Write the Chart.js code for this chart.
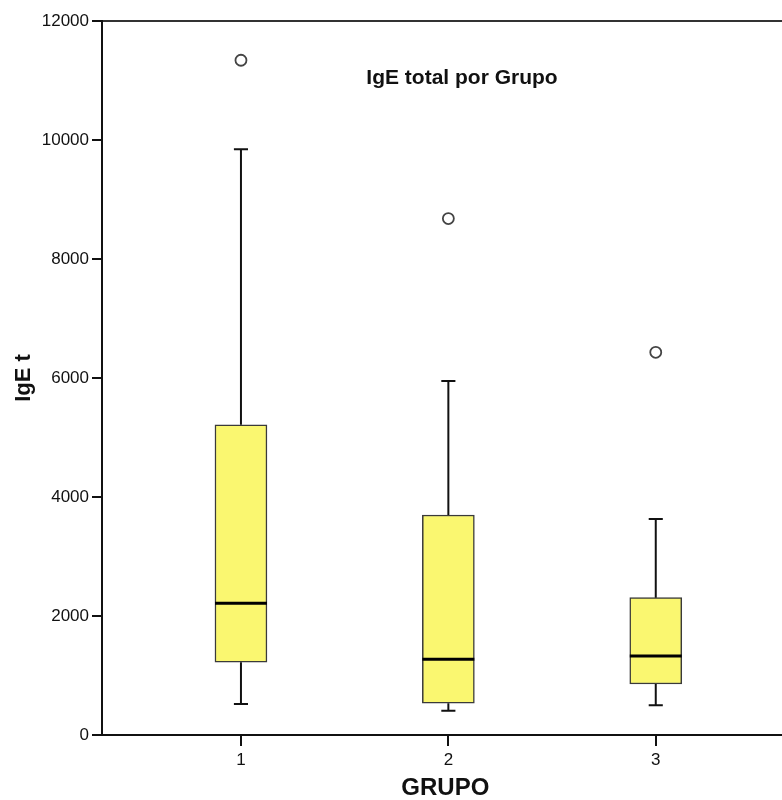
<!DOCTYPE html>
<html>
<head>
<meta charset="utf-8">
<script src="https://cdn.jsdelivr.net/npm/chart.js@4"></script>
<style>
  html, body { margin: 0; padding: 0; background: #ffffff; overflow: hidden; width: 782px; height: 800px; }
  #wrap { width: 796px; height: 800px; }
</style>
</head>
<body>
<div id="wrap"><canvas id="c" width="796" height="800"></canvas></div>
<script>
// ---- data ----
const groups       = [1, 2, 3];
const groupLabels  = ['1', '2', '3'];
const whiskerLow   = [521, 409, 499];
const q1Values     = [1222, 533, 857];
const medianValues = [2213, 1272, 1328];
const q3Values     = [5215, 3697, 2308];
const whiskerHigh  = [9843, 5950, 3630];
const outlierGroup = [1, 2, 3];
const outlierValue = [11340, 8680, 6432];
const yTicks       = [0, 2000, 4000, 6000, 8000, 10000, 12000];

const chartTitle = 'IgE total por Grupo';
const xTitle = 'GRUPO';
const yTitle = 'IgE t';

// ---- styling ----
const FONT = "'Liberation Sans', Arial, sans-serif";
const INK = '#111111';
const BOX_HALF = 0.1253;   // half box width in x units
const CAP_HALF = 0.034;    // half whisker cap width in x units
const X_MIN = 0.33, X_MAX = 3.641;

const boxData = groups.map((g, i) => ({ x: g, y: [q1Values[i], q3Values[i]] }));

const whiskerData = [];
groups.forEach((g, i) => {
  whiskerData.push({ x: g, y: q3Values[i] }, { x: g, y: whiskerHigh[i] }, { x: g, y: null });
  whiskerData.push({ x: g - CAP_HALF, y: whiskerHigh[i] }, { x: g + CAP_HALF, y: whiskerHigh[i] }, { x: g, y: null });
  whiskerData.push({ x: g, y: q1Values[i] }, { x: g, y: whiskerLow[i] }, { x: g, y: null });
  whiskerData.push({ x: g - CAP_HALF, y: whiskerLow[i] }, { x: g + CAP_HALF, y: whiskerLow[i] }, { x: g, y: null });
});

const medianData = [];
groups.forEach((g, i) => {
  medianData.push({ x: g - BOX_HALF, y: medianValues[i] }, { x: g + BOX_HALF, y: medianValues[i] }, { x: g, y: null });
});

const outlierData = outlierGroup.map((g, i) => ({ x: g, y: outlierValue[i] }));

const titlePlugin = {
  id: 'innerTitle',
  afterDraw(chart) {
    const ctx = chart.ctx;
    ctx.save();
    ctx.font = "bold 21px " + FONT;
    ctx.fillStyle = INK;
    ctx.textAlign = 'center';
    ctx.textBaseline = 'alphabetic';
    ctx.fillText(chartTitle, 462, 84);
    ctx.restore();
  }
};

new Chart(document.getElementById('c'), {
  type: 'bar',
  data: {
    datasets: [
      {
        type: 'bar',
        data: boxData,
        backgroundColor: '#faf770',
        borderColor: '#3a3a3a',
        borderWidth: 1.5,
        borderSkipped: false,
        barThickness: 52,
        order: 3
      },
      {
        type: 'line',
        data: whiskerData,
        borderColor: INK,
        borderWidth: 2,
        borderCapStyle: 'butt',
        pointRadius: 0,
        spanGaps: false,
        tension: 0,
        order: 2
      },
      {
        type: 'line',
        data: medianData,
        borderColor: '#000000',
        borderWidth: 3,
        borderCapStyle: 'butt',
        pointRadius: 0,
        spanGaps: false,
        tension: 0,
        order: 1
      },
      {
        type: 'line',
        data: outlierData,
        showLine: false,
        pointStyle: 'circle',
        pointRadius: 5.5,
        pointBackgroundColor: '#ffffff',
        pointBorderColor: '#444444',
        pointBorderWidth: 1.8,
        order: 0
      }
    ]
  },
  options: {
    responsive: false,
    animation: false,
    devicePixelRatio: 1,
    layout: { padding: { top: 21, right: 0, bottom: 0, left: 0 } },
    plugins: { legend: { display: false }, tooltip: { enabled: false }, title: { display: false } },
    scales: {
      x: {
        type: 'linear',
        position: 'bottom',
        min: X_MIN,
        max: X_MAX,
        offset: false,
        grid: { display: true, drawOnChartArea: false, drawTicks: true, tickLength: 11, color: INK, lineWidth: 2, offset: false },
        border: { display: true, color: INK, width: 2 },
        ticks: {
          font: { family: FONT, size: 17 },
          color: INK,
          padding: 4,
          maxRotation: 0,
          callback: (v) => { const k = groups.indexOf(v); return k >= 0 ? groupLabels[k] : ''; }
        },
        afterBuildTicks: (s) => { s.ticks = groups.map(v => ({ value: v })); },
        afterFit: (s) => { s.height = 65; },
        title: {
          display: true, text: xTitle,
          font: { family: FONT, size: 24, weight: 'bold', lineHeight: 1 },
          color: INK, padding: { top: 0, bottom: 0 }
        }
      },
      x2: {
        type: 'linear',
        position: 'top',
        min: X_MIN,
        max: X_MAX,
        grid: { display: true, drawOnChartArea: false, drawTicks: false },
        border: { display: true, color: '#333333', width: 2 },
        ticks: { display: false },
        afterFit: (s) => { s.height = 0; }
      },
      y: {
        type: 'linear',
        position: 'left',
        min: 0,
        max: 12000,
        grid: { display: true, drawOnChartArea: false, drawTicks: true, tickLength: 10, color: INK, lineWidth: 2 },
        border: { display: true, color: INK, width: 2 },
        ticks: {
          font: { family: FONT, size: 17 },
          color: INK,
          padding: 3,
          callback: (v) => String(v)
        },
        afterBuildTicks: (s) => { s.ticks = yTicks.map(v => ({ value: v })); },
        afterFit: (s) => { s.width = 102; },
        title: {
          display: true, text: yTitle,
          font: { family: FONT, size: 22, weight: 'bold', lineHeight: 1 },
          color: INK, padding: { top: 13, bottom: 0 }
        }
      }
    }
  },
  plugins: [titlePlugin]
});
</script>
</body>
</html>
